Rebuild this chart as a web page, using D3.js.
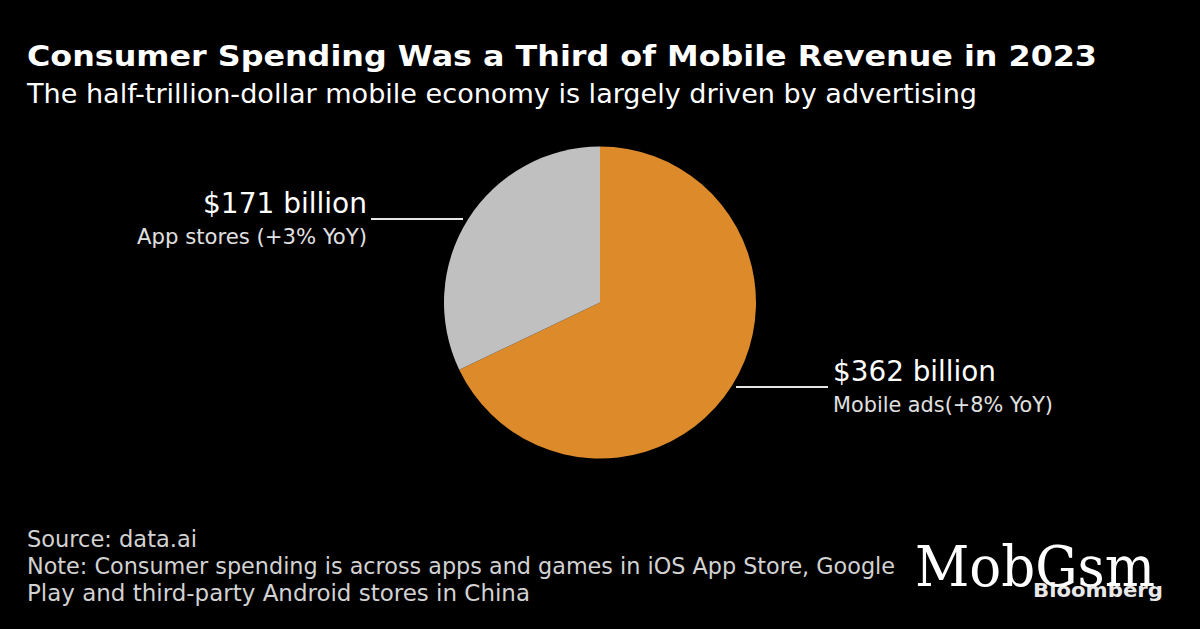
<!DOCTYPE html>
<html>
<head>
<meta charset="utf-8">
<script src="https://cdn.jsdelivr.net/npm/d3@7"></script>
<style>
  html, body { margin: 0; padding: 0; background: #000; }
  svg { display: block; }
</style>
</head>
<body>
<svg id="chart" width="1200" height="629"></svg>
<script>
// ---- data ----
const categories = ["Mobile ads", "App stores"];
const values = [362, 171];
const valueLabels = ["$362 billion", "$171 billion"];
const subLabels = ["Mobile ads(+8% YoY)", "App stores (+3% YoY)"];
const colors = ["#DC8A2A", "#C0C0C0"];

const titleText = "Consumer Spending Was a Third of Mobile Revenue in 2023";
const subtitleText = "The half-trillion-dollar mobile economy is largely driven by advertising";
const footerLines = [
  "Source: data.ai",
  "Note: Consumer spending is across apps and games in iOS App Store, Google",
  "Play and third-party Android stores in China"
];

// ---- drawing ----
const svg = d3.select("#chart");
svg.append("rect").attr("width", 1200).attr("height", 629).attr("fill", "#000");

const condensed = "'DejaVu Sans Condensed', 'DejaVu Sans', sans-serif";

function fitText(sel, width) {
  sel.attr("textLength", width).attr("lengthAdjust", "spacingAndGlyphs");
}

svg.append("text")
  .attr("x", 27).attr("y", 66)
  .attr("fill", "#fff")
  .style("font-family", "'DejaVu Sans', sans-serif")
  .style("font-weight", "bold")
  .style("font-size", "29px")
  .text(titleText)
  .call(fitText, 1070);

svg.append("text")
  .attr("x", 27).attr("y", 103)
  .attr("fill", "#fff")
  .style("font-family", condensed)
  .style("font-size", "27px")
  .text(subtitleText)
  .call(fitText, 950);

// pie
const cx = 600, cy = 302.5, r = 156;
const pie = d3.pie().sort(null).value(d => d);
const arc = d3.arc().innerRadius(0).outerRadius(r);
const arcs = pie(values);

const g = svg.append("g").attr("transform", `translate(${cx},${cy})`);
g.selectAll("path")
  .data(arcs)
  .enter().append("path")
  .attr("d", arc)
  .attr("fill", (d, i) => colors[i]);

// labels: index 1 (App stores) on the left, index 0 (Mobile ads) on the right
const labelLayout = [
  { side: "right", lineY: 84.5, lineX0: 136, lineX1: 228, textX: 233, w1: 163, w2: 220 },
  { side: "left",  lineY: -83.5, lineX0: -137, lineX1: -229, textX: -233, w1: 164, w2: 230 }
];

arcs.forEach((a, i) => {
  const L = labelLayout[i];
  g.append("line")
    .attr("x1", L.lineX0).attr("x2", L.lineX1)
    .attr("y1", L.lineY).attr("y2", L.lineY)
    .attr("stroke", "#e6e6e6").attr("stroke-width", 2);
  const anchor = L.side === "left" ? "end" : "start";
  g.append("text")
    .attr("x", L.textX).attr("y", L.lineY - 6)
    .attr("text-anchor", anchor)
    .attr("fill", "#fff")
    .style("font-family", condensed)
    .style("font-size", "28px")
    .text(valueLabels[i])
    .call(fitText, L.w1);
  g.append("text")
    .attr("x", L.textX).attr("y", L.lineY + 25)
    .attr("text-anchor", anchor)
    .attr("fill", "#e0e0e0")
    .style("font-family", condensed)
    .style("font-size", "22px")
    .text(subLabels[i])
    .call(fitText, L.w2);
});

// footer
const footerWidths = [170, 868, 503];
footerLines.forEach((t, i) => {
  svg.append("text")
    .attr("x", 27).attr("y", 547 + i * 27)
    .attr("fill", "#d2d2d2")
    .style("font-family", condensed)
    .style("font-size", "23px")
    .text(t)
    .call(fitText, footerWidths[i]);
});

// watermark / branding
svg.append("text")
  .attr("x", 1033).attr("y", 597)
  .attr("fill", "#e8e8e8")
  .style("font-family", "'DejaVu Sans', sans-serif")
  .style("font-weight", "bold")
  .style("font-size", "19px")
  .text("Bloomberg")
  .call(fitText, 130);

svg.append("text")
  .attr("x", 915).attr("y", 586)
  .attr("fill", "#fff")
  .style("font-family", "'DejaVu Serif', serif")
  .style("font-size", "56px")
  .text("MobGsm")
  .call(fitText, 240);
</script>
</body>
</html>
